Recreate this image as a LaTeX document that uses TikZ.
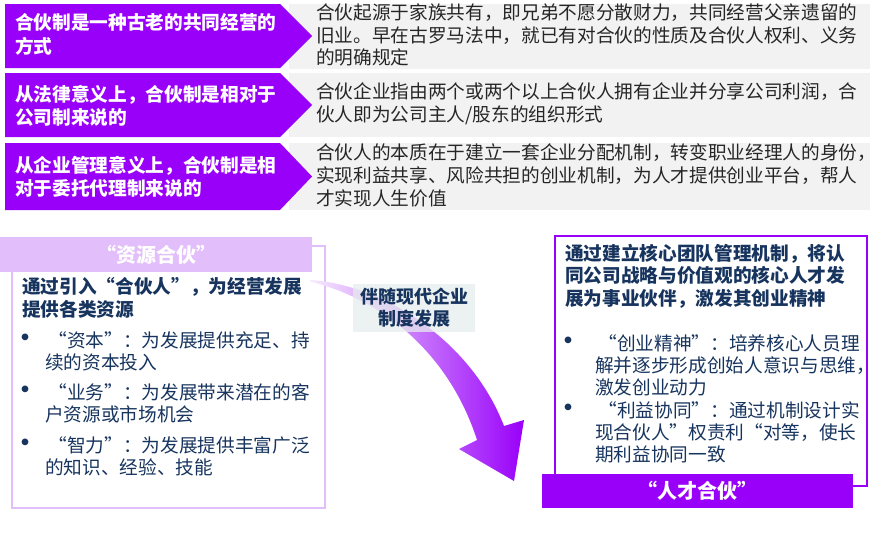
\documentclass[tikz,border=0pt]{standalone}
\usepackage{fontspec}
\setmainfont{Noto Sans CJK SC}
\usepackage{tikz}
\usetikzlibrary{positioning}
\pgfdeclarelayer{backlayer}
\pgfdeclarelayer{shapelayer}
\pgfsetlayers{backlayer,shapelayer,main}
\definecolor{hbpurple}{RGB}{153,0,250}
\definecolor{hblav}{RGB}{226,190,250}
\definecolor{hbgray}{RGB}{242,242,242}
\definecolor{hbnavy}{RGB}{23,52,94}
\definecolor{hbtext}{RGB}{38,38,38}
\definecolor{hbtag}{RGB}{230,236,236}
\tikzstyle{lead}=[font=\bfseries\fontsize{14}{17.5}\selectfont, text=white, anchor=west, align=left, inner sep=0]
\tikzstyle{detail}=[font=\fontsize{14}{17}\selectfont, text=hbtext, anchor=west, align=left, inner sep=0]
\tikzstyle{headline}=[font=\bfseries\fontsize{14}{17}\selectfont, text=hbnavy, anchor=west, align=left, inner sep=0]
\tikzstyle{point}=[font=\fontsize{14}{16.5}\selectfont, text=hbnavy, anchor=west, align=left, inner sep=0]
\tikzstyle{dot}=[font=\bfseries\fontsize{18}{18}\selectfont, text=hbnavy, inner sep=0]
\tikzstyle{banner}=[font=\bfseries\fontsize{15}{18}\selectfont, text=white, inner sep=0]
\tikzstyle{chevron}=[fill=hbpurple, draw=none]
\tikzstyle{panel}=[fill=hbgray, draw=none]

\begin{document}
\begin{tikzpicture}[x=0.75pt,y=-0.75pt]
				\useasboundingbox (0,0) rectangle (877,550);
				\begin{pgfonlayer}{backlayer}
					\fill [style=panel] (289,4) rectangle (870,69);
					\fill [style=panel] (289,73) rectangle (870,137);
					\fill [style=panel] (289,143) rectangle (870,210);
					\draw [draw=hblav, line width=0.8pt] (12,246) rectangle (325,508);
					\draw [draw=hbpurple, line width=0.8pt] (555,236) rectangle (867,486);
				\end{pgfonlayer}
				\begin{pgfonlayer}{shapelayer}
					\fill [style=chevron] (5,4) -- (280,4) -- (312,36) -- (280,68) -- (5,68) -- cycle;
					\fill [style=chevron] (5,73) -- (280,73) -- (312,105) -- (280,137) -- (5,137) -- cycle;
					\fill [style=chevron] (5,143) -- (280,143) -- (312,176.5) -- (280,210) -- (5,210) -- cycle;
					\fill [hblav] (0,237) rectangle (312,272);
					\fill [hbpurple] (542,474) rectangle (853,508);
					\coordinate (tail) at (310,280);
					\coordinate (tip) at (514,481);
					\shade [left color=hblav!30, right color=hbpurple] (tail)
						.. controls (380,284) and (470,338) .. (504,426)
						-- (524,420) -- (tip) -- (459,449) -- (477,440)
						.. controls (452,362) and (392,302) .. (310,281.5) -- cycle;
					\fill [hbtag, fill opacity=0.75] (353,284) rectangle (475,332);
				\end{pgfonlayer}
				\node [style=lead] (origin) at (15,34.5) {合伙制是一种古老的共同经营的\\方式};
				\node [style=lead] (legal) at (15,105.5) {从法律意义上，合伙制是相对于\\公司制来说的};
				\node [style=lead] (manage) at (15,176.5) {从企业管理意义上，合伙制是相\\对于委托代理制来说的};
				\node [style=detail] (origintext) at (316,35) {合伙起源于家族共有，即兄弟不愿分散财力，共同经营父亲遗留的\\旧业。早在古罗马法中，就已有对合伙的性质及合伙人权利、义务\\的明确规定};
				\node [style=detail] (legaltext) at (316,103.5) {合伙企业指由两个或两个以上合伙人拥有企业并分享公司利润，合\\伙人即为公司主人/股东的组织形式};
				\node [style=detail] (managetext) at (316,175.5) {合伙人的本质在于建立一套企业分配机制，转变职业经理人的身份，\\实现利益共享、风险共担的创业机制，为人才提供创业平台，帮人\\才实现人生价值};
				\node [style=banner] (resource) at (156,254.5) {“资源合伙”};
				\node [style=headline] (resourcelead) at (22,298) {通过引入“合伙人”，为经营发展\\提供各类资源};
				\node [style=dot] (dota) at (25,340) {•};
				\node [style=point] (capital) at (45,351) {\,“资本”：为发展提供充足、持\\续的资本投入};
				\node [style=dot] (dotb) at (25,392) {•};
				\node [style=point] (business) at (45,403) {\,“业务”：为发展带来潜在的客\\户资源或市场机会};
				\node [style=dot] (dotc) at (25,445) {•};
				\node [style=point] (wisdom) at (45,456) {\,“智力”：为发展提供丰富广泛\\的知识、经验、技能};
				\node [style=headline, font=\bfseries\fontsize{13.5}{17}\selectfont, anchor=center, align=center] (modern) at (414,307.5) {伴随现代企业\\制度发展};
				\node [style=headline] (talentlead) at (565,276) {通过建立核心团队管理机制，将认\\同公司战略与价值观的核心人才发\\展为事业伙伴，激发其创业精神};
				\node [style=dot] (dotd) at (568,343) {•};
				\node [style=point] (spirit) at (595,365) {\,“创业精神”：培养核心人员理\\解并逐步形成创始人意识与思维，\\激发创业动力};
				\node [style=dot] (dote) at (568,410) {•};
				\node [style=point] (synergy) at (595,432) {\,“利益协同”：通过机制设计实\\现合伙人”权责利“对等，使长\\期利益协同一致};
				\node [style=banner] (talent) at (697.5,491) {“人才合伙”};
			\end{tikzpicture}
\end{document}
